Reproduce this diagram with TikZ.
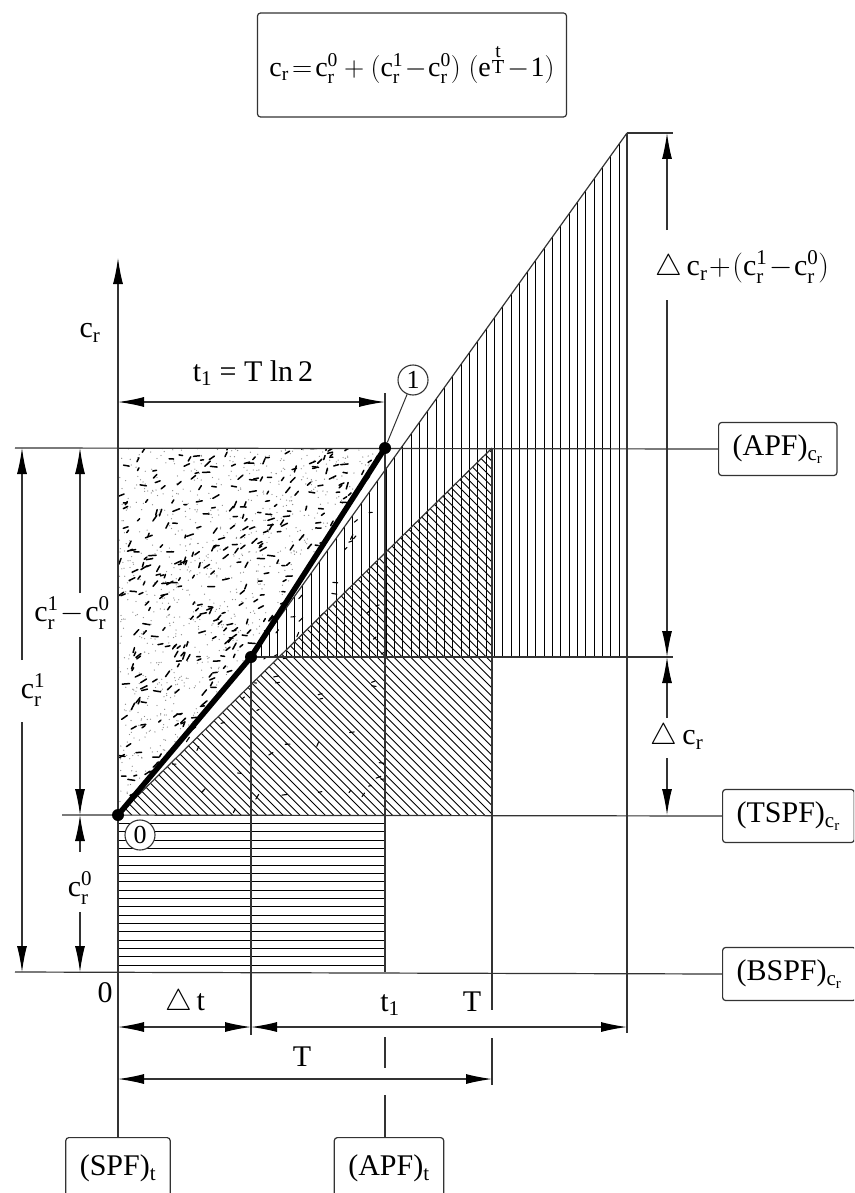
\RequirePackage{fix-cm}
\documentclass[tikz,border=0pt]{standalone}
\usepackage{fontspec}
\setmainfont{Liberation Serif}
\usetikzlibrary{arrows.meta}
\begin{document}
\begin{tikzpicture}[x=1pt,y=-1pt,
  ln/.style={line width=1.2pt, draw=black!80},
  hatch/.style={line width=0.9pt, draw=black},
  dimtip/.style={-{Latex[length=26pt,width=10pt,color=black]}, line width=1.2pt, draw=black!80},
  dimboth/.style={{Latex[length=26pt,width=10pt,color=black]}-{Latex[length=26pt,width=10pt,color=black]}, line width=1.2pt, draw=black!80},
  lbl/.style={font=\fontsize{30}{36}\selectfont, inner sep=0pt},
  box/.style={draw=black!80, line width=1.2pt, rounded corners=3pt, font=\fontsize{30}{36}\selectfont, inner xsep=14pt, minimum height=53pt},
  boldcurve/.style={line width=5.5pt, line cap=round, line join=round},
  dotp/.style={circle, fill=black, inner sep=0pt, minimum size=12pt},
  num/.style={circle, draw=black!80, line width=1.1pt, inner sep=0pt, minimum size=30pt, font=\fontsize{26}{30}\selectfont, fill=white},
  stip/.style={line width=1.5pt, line cap=round, draw=black}
]
\useasboundingbox (0,0) rectangle (854,1193);
\clip (0,0) rectangle (854,1193);

% key points
\coordinate (O) at (118,815);
\coordinate (M) at (251,657);
\coordinate (P) at (385,448);
\coordinate (A) at (627,133);
\coordinate (H) at (492,448);

% ---------- stipple ----------
\pgfmathsetseed{4}
\begin{scope}
  \clip (118,448) -- (385,448) -- (M) -- (O) -- cycle;
  \foreach \i in {1,...,1600}{
    \pgfmathsetmacro{\sx}{118+267*rnd}
    \pgfmathsetmacro{\sy}{448+367*rnd}
    \fill[black!45] (\sx,\sy) circle (0.65);
  }
  \foreach \i in {1,...,650}{
    \pgfmathsetmacro{\sx}{118+267*rnd}
    \pgfmathsetmacro{\sy}{448+367*rnd}
    \pgfmathsetmacro{\sa}{-75+85*rnd}
    \pgfmathsetmacro{\sl}{3+4.5*rnd}
    \draw[stip] (\sx,\sy) -- ++(\sa:\sl);
  }
\end{scope}
\begin{scope}
  \clip (385,448) -- (M) -- (O) -- (385,815) -- cycle;
  \foreach \i in {1,...,120}{
    \pgfmathsetmacro{\sx}{118+267*rnd}
    \pgfmathsetmacro{\sy}{448+367*rnd}
    \pgfmathsetmacro{\sa}{-75+85*rnd}
    \pgfmathsetmacro{\sl}{2.5+3*rnd}
    \draw[stip, line width=1.1pt] (\sx,\sy) -- ++(\sa:\sl);
  }
\end{scope}

% ---------- hatching ----------
\begin{scope}
  \clip (M) -- (A) -- (627,657) -- cycle;
  \foreach \k in {-16,...,29}{
    \draw[hatch] ({386+8.33*\k},100) -- ({386+8.33*\k},660);
  }
\end{scope}
\begin{scope}
  \clip (O) -- (H) -- (492,815) -- cycle;
  \foreach \k in {-46,...,44}{
    \draw[hatch] ({118+8.4*\k},440) -- ++(400,400);
  }
\end{scope}
\foreach \k in {1,...,18}{
  \draw[hatch] (118,{815+8.33*\k}) -- (385,{815+8.33*\k});
}

% ---------- boxes ----------
\node[box, inner xsep=2pt, minimum width=309pt, minimum height=104pt, font=\fontsize{28}{34}\selectfont] (formula) at (412,65)
  {$\mathrm{c_r\!=\!c_r^0+(c_r^1\!-\!c_r^0)\;(e^{\frac{\scriptstyle t}{\scriptstyle T}}\!-\!1)}$};
\node[box, anchor=west] (apfc) at (718,449) {(APF)$_{\mathrm{c_r}}$};
\node[box, anchor=west] (tspf) at (722,816) {(TSPF)$_{\mathrm{c_r}}$};
\node[box, anchor=west] (bspf) at (722,974) {(BSPF)$_{\mathrm{c_r}}$};
\node[box, anchor=north, minimum height=62pt] (spf) at (118,1137) {(SPF)$_{\mathrm{t}}$};
\node[box, anchor=north, minimum height=62pt] (apft) at (389,1137) {(APF)$_{\mathrm{t}}$};

% ---------- coordinates for lines ----------
\coordinate (apfL) at (15,448);
\coordinate (tspfL) at (62,815);
\coordinate (bspfL) at (15,972);
\coordinate (m657R) at (673,657);
\coordinate (a133R) at (673,133);
\coordinate (axtop) at (118,258);
\coordinate (axbot) at (118,1137);
\coordinate (dtb) at (251,1035);
\coordinate (t1a) at (385,393);
\coordinate (t1b) at (385,972);
\coordinate (t1c) at (385,1037);
\coordinate (t1d) at (385,1068);
\coordinate (t1e) at (385,1095);
\coordinate (t1f) at (385,1137);
\coordinate (Tb) at (492,1010);
\coordinate (Tc) at (492,1038);
\coordinate (Td) at (492,1085);
\coordinate (Ab) at (627,1033);

% ---------- structural lines ----------
\draw[ln] (apfL) -- (apfc.west);
\draw[ln] (M) -- (m657R);
\draw[ln] (tspfL) -- (tspf.west);
\draw[ln] (bspfL) -- (bspf.west);
\draw[ln] (A) -- (a133R);
\draw[dimtip] (axbot) -- (axtop);
\draw[ln] (M) -- (dtb);
\draw[ln] (t1a) -- (t1b);
\draw[ln] (t1c) -- (t1d);
\draw[ln] (t1e) -- (t1f);
\draw[ln] (H) -- (Tb);
\draw[ln] (Tc) -- (Td);
\draw[ln] (A) -- (Ab);
\draw[ln] (M) -- (A);
\draw[ln] (O) -- (H);

% ---------- dimension lines ----------
\coordinate (d1a) at (118,402);  \coordinate (d1b) at (385,402);
\coordinate (d2a) at (118,1027); \coordinate (d2b) at (251,1027); \coordinate (d2c) at (627,1027);
\coordinate (d3a) at (118,1079); \coordinate (d3b) at (492,1079);
\draw[dimboth] (d1a) -- (d1b);
\draw[dimboth] (d2a) -- (d2b);
\draw[dimboth] (d2b) -- (d2c);
\draw[dimboth] (d3a) -- (d3b);

\coordinate (r1) at (667,133);  \coordinate (r2) at (667,230);
\coordinate (r3) at (667,300);  \coordinate (r4) at (667,657);
\coordinate (r5) at (667,718);  \coordinate (r6) at (667,758);
\coordinate (r7) at (667,815);
\draw[dimtip] (r2) -- (r1);
\draw[dimtip] (r3) -- (r4);
\draw[dimtip] (r5) -- (r4);
\draw[dimtip] (r6) -- (r7);

\coordinate (la1) at (22,448); \coordinate (la2) at (22,660);
\coordinate (la3) at (22,722); \coordinate (la4) at (22,972);
\draw[dimtip] (la2) -- (la1);
\draw[dimtip] (la3) -- (la4);
\coordinate (lb1) at (80,448); \coordinate (lb2) at (80,593);
\coordinate (lb3) at (80,637); \coordinate (lb4) at (80,815);
\coordinate (lb5) at (80,852); \coordinate (lb6) at (80,912);
\coordinate (lb7) at (80,972);
\draw[dimtip] (lb2) -- (lb1);
\draw[dimtip] (lb3) -- (lb4);
\draw[dimtip] (lb5) -- (lb4);
\draw[dimtip] (lb6) -- (lb7);

% ---------- curve ----------
\draw[boldcurve] (O) -- (M) -- (P);
\node[dotp] (pO) at (O) {};
\node[dotp] (pM) at (M) {};
\node[dotp] (pP) at (P) {};
\node[num] (n1) at (413,380) {1};
\draw[ln, line width=1pt] (n1) -- (pP);
\node[num] (n0) at (140,835) {0};

% ---------- labels ----------
\node[lbl] (lcr) at (90,333) {$\mathrm{c_r}$};
\node[lbl] (lt1) at (253,373) {$\mathrm{t_1}$ = T ln\,2};
\node[lbl] (lright) at (742,267) {$\triangle\,\mathrm{c_r}\!+\!(\mathrm{c_r^1}\!-\!\mathrm{c_r^0})$};
\node[lbl] (ldc) at (677,737) {$\triangle\,\mathrm{c_r}$};
\node[lbl] (lc1c0) at (72,613) {$\mathrm{c_r^1}\!-\!\mathrm{c_r^0}$};
\node[lbl] (lc1) at (33,690) {$\mathrm{c_r^1}$};
\node[lbl] (lc0) at (80,888) {$\mathrm{c_r^0}$};
\node[lbl] (lzero) at (105,993) {0};
\node[lbl] (ldt) at (185,1003) {$\triangle\,\mathrm{t}$};
\node[lbl] (lt1b) at (390,1005) {$\mathrm{t_1}$};
\node[lbl] (lTa) at (472,1002) {T};
\node[lbl] (lTb) at (302,1057) {T};
\end{tikzpicture}
\end{document}
